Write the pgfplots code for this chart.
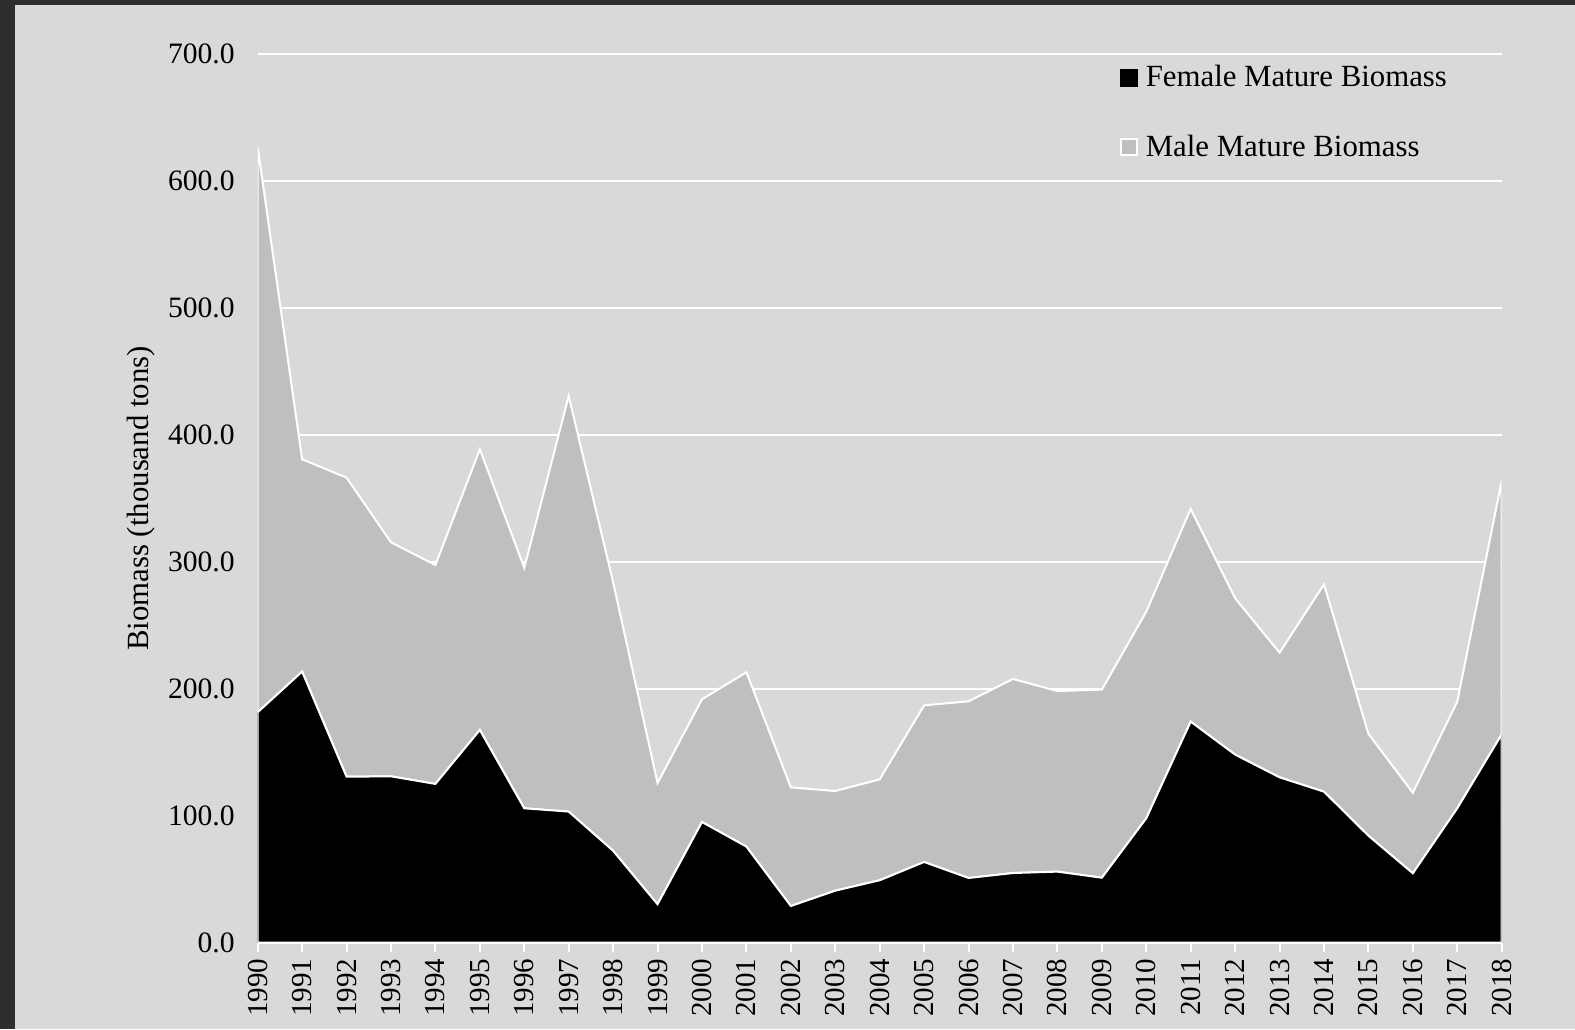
\documentclass[border=0pt]{standalone}
\usepackage{fontspec}
\setmainfont{Liberation Serif}
\usepackage{pgfplots}
\usepackage{pgfplotstable}
\pgfplotsset{compat=1.18}
\definecolor{frame}{HTML}{2E2E2E}
\definecolor{bg}{HTML}{D9D9D9}
\definecolor{malegray}{HTML}{BFBFBF}
\pgfplotstableread{
year female male
1990 181.6 445.2
1991 213.6 167.3
1992 130.8 235.6
1993 131.1 184.4
1994 125.1 172.5
1995 167.6 221.2
1996 105.9 189.4
1997 103.3 327.5
1998 72.4 211.6
1999 30.3 95.5
2000 95.1 96.7
2001 75.7 137.4
2002 28.9 93.5
2003 41.0 78.5
2004 49.2 79.5
2005 63.6 123.4
2006 51.0 139.2
2007 54.9 152.9
2008 56.0 142.3
2009 51.2 148.2
2010 98.0 162.8
2011 174.2 167.6
2012 148.2 123.2
2013 130.3 98.2
2014 119.0 163.4
2015 84.3 80.2
2016 54.7 63.5
2017 105.9 84.1
2018 164.2 199.6
}\datatable
\begin{document}
\begin{tikzpicture}
\useasboundingbox (-128.85pt,-43.15pt) rectangle (658.65pt,471.35pt);
\fill[frame] (-128.85pt,-43.15pt) rectangle (658.65pt,471.35pt);
\fill[bg] (-121.35pt,-43.15pt) rectangle (658.65pt,468.85pt);
\begin{axis}[
  at={(0,0)}, anchor=south west,
  scale only axis, width=622pt, height=444.2pt,
  xmin=1990, xmax=2018, ymin=0, ymax=700,
  enlargelimits=false,
  stack plots=y,
  axis line style={draw=none},
  xtick={1990,1991,...,2018},
  ytick={0,100,...,700},
  ymajorgrids,
  grid style={white, line width=1pt},
  xtick align=outside,
  major tick length=4.5pt,
  xtick style={white, line width=1pt},
  ytick style={draw=none},
  xtick pos=bottom,
  ytick pos=left,
  xticklabel style={rotate=90, anchor=east, font=\fontsize{14.5}{16}\selectfont,
    /pgf/number format/.cd, 1000 sep={}, fixed, precision=0, assume math mode=true},
  yticklabel style={xshift=-8pt, font=\fontsize{14.8}{16}\selectfont,
    /pgf/number format/.cd, fixed, fixed zerofill, precision=1, assume math mode=true},
  ylabel={Biomass (thousand tons)},
  ylabel style={at={(axis description cs:-0.0941,0.5)}, anchor=center, font=\fontsize{15.4}{17}\selectfont},
  legend style={at={(rel axis cs:0.6927,0.9914)}, anchor=north west, draw=none, fill=none,
    font=\fontsize{15.4}{17}\selectfont, row sep=19.5pt, inner sep=0pt,
    nodes={inner sep=1.5pt},
    /tikz/every odd column/.append style={column sep=2.5pt}},
  legend cell align=left,
]
\addplot[fill=black, draw=white, line width=1pt,
  legend image code/.code={\fill[black] (0pt,-4pt) rectangle (8pt,4pt);}]
  table[x=year, y=female] {\datatable} \closedcycle;
\addlegendentry{Female Mature Biomass}
\addplot[fill=malegray, draw=white, line width=1pt,
  legend image code/.code={\filldraw[fill=malegray, draw=white, line width=0.8pt] (0pt,-4pt) rectangle (8pt,4pt);}]
  table[x=year, y=male] {\datatable} \closedcycle;
\addlegendentry{Male Mature Biomass}
\end{axis}
\end{tikzpicture}
\end{document}
